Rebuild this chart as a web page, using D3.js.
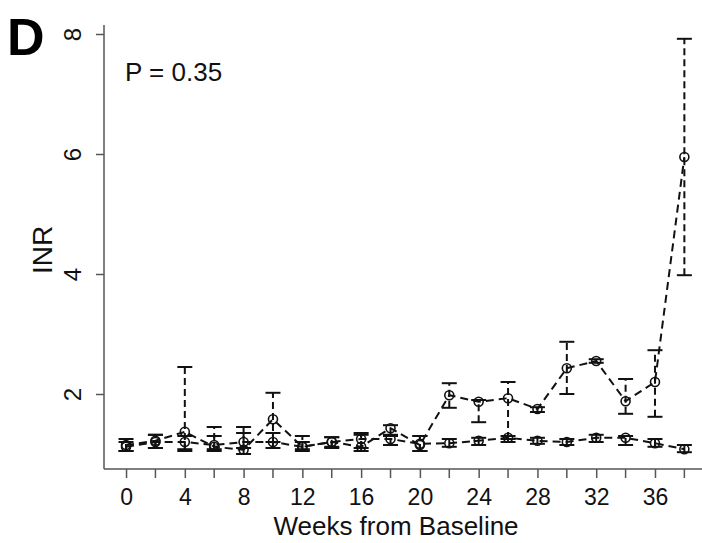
<!DOCTYPE html>
<html>
<head>
<meta charset="utf-8">
<script src="https://cdn.jsdelivr.net/npm/d3@7"></script>
<style>
  body { margin: 0; background: #fff; }
  svg { display: block; font-family: "Liberation Sans", Arial, sans-serif; }
</style>
</head>
<body>
<div class="container"></div>
<script>
// weeks from baseline
var weeks = [0, 2, 4, 6, 8, 10, 12, 14, 16, 18, 20, 22, 24, 26, 28, 30, 32, 34, 36, 38];

// group A (the one that rises late)
var meanA = [1.15, 1.22, 1.37, 1.12, 1.07, 1.58, 1.12, 1.2, 1.12, 1.43, 1.15, 1.98, 1.87, 1.93, 1.75, 2.43, 2.55, 1.88, 2.2, 5.95];
var lowA  = [1.05, 1.1, 1.05, 1.05, 1.0, 1.2, 1.05, 1.1, 1.05, 1.3, 1.05, 1.77, 1.53, 1.25, 1.7, 2.0, 2.52, 1.67, 1.62, 3.98];
var highA = [1.25, 1.32, 2.45, 1.45, 1.45, 2.02, 1.3, 1.28, 1.32, 1.48, 1.3, 2.18, 1.9, 2.2, 1.78, 2.87, 2.58, 2.25, 2.73, 7.92];

// group B (stays flat)
var meanB = [1.12, 1.2, 1.2, 1.15, 1.2, 1.2, 1.12, 1.2, 1.25, 1.25, 1.17, 1.18, 1.22, 1.27, 1.22, 1.2, 1.27, 1.27, 1.18, 1.08];
var lowB  = [1.05, 1.1, 1.08, 1.08, 1.1, 1.1, 1.08, 1.12, 1.1, 1.15, 1.05, 1.12, 1.15, 1.2, 1.17, 1.15, 1.2, 1.15, 1.12, 1.03];
var highB = [1.2, 1.32, 1.3, 1.3, 1.35, 1.35, 1.2, 1.28, 1.35, 1.32, 1.3, 1.25, 1.27, 1.3, 1.27, 1.25, 1.32, 1.3, 1.25, 1.15];

var xTicks = [0, 4, 8, 12, 16, 20, 24, 28, 32, 36];
var xMinor = [2, 6, 10, 14, 18, 22, 26, 30, 34, 38];
var yTicks = [2, 4, 6, 8];

var width = 702, height = 543;

var svg = d3.select(".container")
  .append("svg")
  .attr("width", width)
  .attr("height", height);

var x = d3.scaleLinear().domain([-1.5, 39.2]).range([104, 702]);
var y = d3.scaleLinear().domain([0.75, 8.15]).range([469, 25]);

var ink = "#111", axisCol = "#555";

// y axis
var yAxis = d3.axisLeft(y).tickValues(yTicks).tickSize(8).tickFormat(d3.format("d"));
var gy = svg.append("g").attr("transform", "translate(104,0)").call(yAxis);
gy.select(".domain").attr("d", "M0," + y.range()[1] + "V" + y.range()[0]);
gy.selectAll("line, path").attr("stroke", axisCol).attr("stroke-width", 1.5);
gy.selectAll("text")
  .attr("x", 0).attr("dy", 0)
  .attr("transform", "translate(-23,0) rotate(-90)")
  .attr("text-anchor", "middle")
  .style("font-size", "24px").attr("fill", ink);

// x axis
var xAxis = d3.axisBottom(x).tickValues(xTicks).tickSize(9).tickFormat(d3.format("d"));
var gx = svg.append("g").attr("transform", "translate(0,469)").call(xAxis);
gx.select(".domain").attr("d", "M104,0H702");
gx.selectAll("line, path").attr("stroke", axisCol).attr("stroke-width", 1.5);
gx.selectAll("text").attr("dy", "1.05em").style("font-size", "23px").attr("fill", ink);
gx.selectAll(".minor").data(xMinor).enter().append("line")
  .attr("x1", function(d) { return x(d); }).attr("x2", function(d) { return x(d); })
  .attr("y1", 0).attr("y2", 9)
  .attr("stroke", axisCol).attr("stroke-width", 1.5);

// labels
svg.append("text").attr("x", 396).attr("y", 535).attr("text-anchor", "middle")
  .style("font-size", "26px").attr("fill", ink).text("Weeks from Baseline");
svg.append("text").attr("transform", "translate(52,250) rotate(-90)").attr("text-anchor", "middle")
  .style("font-size", "28px").attr("fill", ink).text("INR");
svg.append("text").attr("x", 125).attr("y", 81)
  .style("font-size", "26px").attr("fill", ink).text("P = 0.35");
svg.append("text").attr("x", 7).attr("y", 55)
  .style("font-size", "52px").style("font-weight", "bold").attr("fill", "#000").text("D");

function drawGroup(mean, low, high) {
  var pts = weeks.map(function(w, i) { return { w: w, m: mean[i], lo: low[i], hi: high[i] }; });
  var g = svg.append("g");
  var line = d3.line().x(function(d) { return x(d.w); }).y(function(d) { return y(d.m); });
  g.append("path").datum(pts).attr("d", line)
    .attr("fill", "none").attr("stroke", ink).attr("stroke-width", 2).attr("stroke-dasharray", "8,5");
  g.selectAll(".eb").data(pts).enter().append("line")
    .attr("x1", function(d) { return x(d.w); }).attr("x2", function(d) { return x(d.w); })
    .attr("y1", function(d) { return y(d.lo); }).attr("y2", function(d) { return y(d.hi); })
    .attr("stroke", ink).attr("stroke-width", 2).attr("stroke-dasharray", "7,4");
  ["lo", "hi"].forEach(function(k) {
    g.selectAll(".cap" + k).data(pts).enter().append("line")
      .attr("x1", function(d) { return x(d.w) - 7.5; }).attr("x2", function(d) { return x(d.w) + 7.5; })
      .attr("y1", function(d) { return y(d[k]); }).attr("y2", function(d) { return y(d[k]); })
      .attr("stroke", ink).attr("stroke-width", 2);
  });
  g.selectAll("circle").data(pts).enter().append("circle")
    .attr("cx", function(d) { return x(d.w); }).attr("cy", function(d) { return y(d.m); })
    .attr("r", 4.5).attr("fill", "none").attr("stroke", ink).attr("stroke-width", 1.6);
}

drawGroup(meanB, lowB, highB);
drawGroup(meanA, lowA, highA);
</script>
</body>
</html>
